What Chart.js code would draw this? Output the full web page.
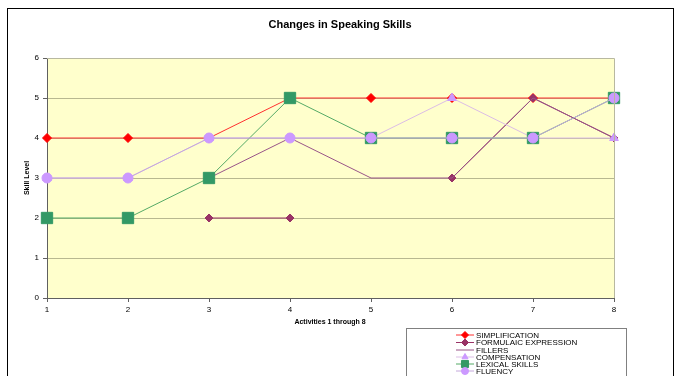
<!DOCTYPE html>
<html>
<head>
<meta charset="utf-8">
<script src="https://cdn.jsdelivr.net/npm/chart.js@4"></script>
<style>
  html, body { margin: 0; padding: 0; background: #fff; }
  #wrap { width: 679px; height: 376px; position: relative; }
</style>
</head>
<body>
<div id="wrap"><canvas id="chart" width="679" height="376"></canvas></div>
<script>
const activities = ["1", "2", "3", "4", "5", "6", "7", "8"];
const seriesNames = ["SIMPLIFICATION", "FORMULAIC EXPRESSION", "FILLERS", "COMPENSATION", "LEXICAL SKILLS", "FLUENCY"];
const simplification = [4, 4, 4, 5, 5, 5, 5, 5];
const formulaic = [null, null, 2, 2, null, 3, 5, 4];
const fillers = [null, null, 3, 4, 3, 3, 5, 4];
const compensation = [3, 3, 4, 4, 4, 5, 4, 4];
const lexical = [2, 2, 3, 5, 4, 4, 4, 5];
const fluency = [3, 3, 4, 4, 4, 4, 4, 5];
const yTicks = [0, 1, 2, 3, 4, 5, 6];

const FONT = "'Liberation Sans', Arial, sans-serif";

// plot area box (matches the reference)
const PLOT = { left: 47, right: 614, top: 58, bottom: 298 };

function ds(i, data, color, lineColor, style, radius) {
  return {
    label: seriesNames[i],
    data: data,
    borderColor: lineColor,
    backgroundColor: color,
    pointBackgroundColor: color,
    pointBorderColor: color,
    pointStyle: style,
    pointRadius: radius,
    pointHoverRadius: radius,
    borderWidth: 1,
    pointBorderWidth: 1,
    tension: 0,
    order: 6 - i
  };
}

const datasets = [
  ds(0, simplification, "#ff0000", "#ff3030", "rectRot", 4.5),
  ds(1, formulaic, "#993366", "#993366", "rectRot", 4),
  ds(2, fillers, "#9966aa", "#995588", false, 0),
  ds(3, compensation, "#cc99ff", "#dcbde6", "triangle", 5),
  ds(4, lexical, "#339966", "#55aa66", "rect", 8),
  ds(5, fluency, "#cc99ff", "#c4a8dc", "circle", 5)
];

const decor = {
  id: "decor",
  beforeDraw(chart) {
    const c = chart.ctx;
    c.save();
    c.fillStyle = "#ffffcc";
    c.fillRect(PLOT.left, PLOT.top, PLOT.right - PLOT.left, PLOT.bottom - PLOT.top);
    c.restore();
  },
  afterDraw(chart) {
    const c = chart.ctx;
    c.save();
    // outer frame
    c.strokeStyle = "#000";
    c.lineWidth = 1;
    c.strokeRect(7.5, 8.5, 666, 380);
    // plot border right/top
    c.strokeStyle = "#b8b8a0";
    c.beginPath();
    c.moveTo(PLOT.left, PLOT.top + 0.5);
    c.lineTo(PLOT.right + 0.5, PLOT.top + 0.5);
    c.lineTo(PLOT.right + 0.5, PLOT.bottom);
    c.stroke();
    // titles
    c.fillStyle = "#000";
    c.textAlign = "center";
    c.textBaseline = "middle";
    c.font = "bold 11px " + FONT;
    c.fillText("Changes in Speaking Skills", 340, 25);
    c.font = "bold 7px " + FONT;
    c.fillText("Activities 1 through 8", 330, 322);
    c.translate(27, 178);
    c.rotate(-Math.PI / 2);
    c.fillText("Skill Level", 0, 0);
    c.restore();

    // legend
    c.save();
    c.fillStyle = "#fff";
    c.fillRect(406.5, 328.5, 220, 60);
    c.strokeStyle = "#808080";
    c.strokeRect(406.5, 328.5, 220, 60);
    c.font = "8px " + FONT;
    c.textAlign = "left";
    c.textBaseline = "middle";
    const rows = [335, 342.5, 350, 357, 364, 371];
    chart.data.datasets.forEach((d, i) => {
      const y = rows[i];
      c.strokeStyle = d.borderColor;
      c.lineWidth = 1;
      c.beginPath();
      c.moveTo(456, y);
      c.lineTo(474, y);
      c.stroke();
      if (d.pointStyle) {
        c.fillStyle = d.backgroundColor;
        c.strokeStyle = d.backgroundColor;
        Chart.helpers.drawPoint(c, {
          pointStyle: d.pointStyle,
          radius: d.pointStyle === "rect" ? 5 : 3.5,
          borderWidth: 1
        }, 465, y);
      }
      c.fillStyle = "#000";
      c.fillText(d.label, 476, y + 0.5);
    });
    c.restore();
  }
};

const chart = new Chart(document.getElementById("chart").getContext("2d"), {
  type: "line",
  data: { labels: activities, datasets: datasets },
  options: {
    responsive: false,
    animation: false,
    layout: { padding: { left: 0, right: 679 - PLOT.right, top: PLOT.top, bottom: 0 } },
    plugins: {
      legend: { display: false },
      title: { display: false },
      tooltip: { enabled: false }
    },
    scales: {
      x: {
        type: "category",
        offset: false,
        afterFit: (s) => { s.height = 376 - PLOT.bottom; },
        grid: { display: true, drawOnChartArea: false, color: "#606060", tickLength: 4 },
        border: { color: "#606060", width: 1 },
        ticks: { color: "#000", font: { family: FONT, size: 8 }, padding: 3, maxRotation: 0 }
      },
      y: {
        min: 0,
        max: 6,
        afterFit: (s) => { s.width = PLOT.left; },
        afterBuildTicks: (s) => { s.ticks = yTicks.map(v => ({ value: v })); },
        grid: { color: "#b8b890", tickLength: 4, drawTicks: true, tickColor: "#606060" },
        border: { color: "#606060", width: 1 },
        ticks: { color: "#000", font: { family: FONT, size: 8 }, padding: 4 }
      }
    }
  },
  plugins: [decor]
});
</script>
</body>
</html>
